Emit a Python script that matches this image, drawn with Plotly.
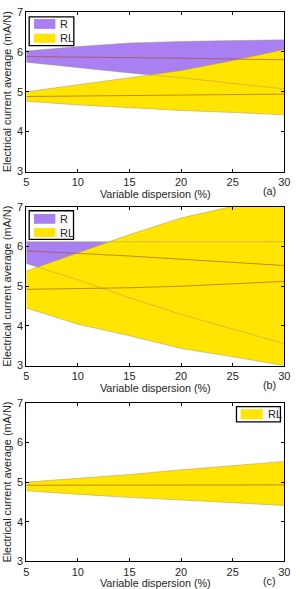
import plotly.graph_objects as go

# ---------------- data ----------------
x_disp = [5, 10, 15, 20, 25, 30]

# panel (a)
a_R_mean = [5.88, 5.87, 5.86, 5.84, 5.82, 5.80]
a_R_upper = [6.02, 6.13, 6.22, 6.26, 6.28, 6.30]
a_R_lower = [5.74, 5.60, 5.47, 5.35, 5.21, 5.07]
a_RL_mean = [4.88, 4.89, 4.90, 4.91, 4.92, 4.94]
a_RL_upper = [5.00, 5.17, 5.35, 5.53, 5.78, 6.06]
a_RL_lower = [4.76, 4.67, 4.60, 4.53, 4.48, 4.42]

# panel (b)
b_R_mean = [5.89, 5.83, 5.76, 5.68, 5.60, 5.52]
b_R_upper = [6.12, 6.12, 6.12, 6.12, 6.12, 6.12]
b_R_lower = [5.57, 5.16, 4.71, 4.29, 3.92, 3.55]
b_RL_mean = [4.92, 4.94, 4.96, 5.00, 5.06, 5.12]
b_RL_upper = [5.38, 5.84, 6.30, 6.72, 7.02, 7.30]
b_RL_lower = [4.45, 4.04, 3.75, 3.43, 3.22, 3.00]

# panel (c)
c_RL_mean = [4.92, 4.92, 4.92, 4.92, 4.93, 4.93]
c_RL_upper = [5.00, 5.09, 5.19, 5.31, 5.41, 5.52]
c_RL_lower = [4.78, 4.69, 4.61, 4.55, 4.48, 4.41]

x_ticks = [5, 10, 15, 20, 25, 30]
y_ticks = [3, 4, 5, 6, 7]
panel_labels = ["(a)", "(b)", "(c)"]
series_names = ["R", "RL"]
x_title = "Variable dispersion (%)"
y_title = "Electrical current average (mA/N)"

# ---------------- style ----------------
PURPLE = "#A97FF2"
YELLOW = "#FFE500"
EDGE = "rgba(165,150,120,0.6)"
MEAN = "rgba(155,75,20,0.6)"
TXT = "#262626"
FONT = "Liberation Sans, Arial, sans-serif"

W, H = 300, 589
px_left, px_right = 24, 290
panels_px = [(6, 169), (205, 367), (405, 567)]

fig = go.Figure()


def band(x, up, lo, color, name, xa, ya):
    fig.add_trace(go.Scatter(
        x=x + x[::-1], y=up + lo[::-1], fill="toself", fillcolor=color,
        mode="lines", line=dict(color=color, width=0), name=name,
        xaxis=xa, yaxis=ya, showlegend=False, hoverinfo="skip"))


def edges(x, up, lo, mean, xa, ya):
    for yy, c in ((up, EDGE), (lo, EDGE), (mean, MEAN)):
        fig.add_trace(go.Scatter(x=x, y=yy, mode="lines",
                                 line=dict(color=c, width=1 if c == MEAN else 0.8),
                                 xaxis=xa, yaxis=ya, showlegend=False, hoverinfo="skip"))


# panel a
band(x_disp, a_R_upper, a_R_lower, PURPLE, "R", "x", "y")
band(x_disp, a_RL_upper, a_RL_lower, YELLOW, "RL", "x", "y")
edges(x_disp, a_R_upper, a_R_lower, a_R_mean, "x", "y")
edges(x_disp, a_RL_upper, a_RL_lower, a_RL_mean, "x", "y")
# panel b
band(x_disp, b_R_upper, b_R_lower, PURPLE, "R", "x2", "y2")
band(x_disp, b_RL_upper, b_RL_lower, YELLOW, "RL", "x2", "y2")
edges(x_disp, b_R_upper, b_R_lower, b_R_mean, "x2", "y2")
edges(x_disp, b_RL_upper, b_RL_lower, b_RL_mean, "x2", "y2")
# panel c
band(x_disp, c_RL_upper, c_RL_lower, YELLOW, "RL", "x3", "y3")
edges(x_disp, c_RL_upper, c_RL_lower, c_RL_mean, "x3", "y3")

xdom = [px_left / W, px_right / W]
shapes, annotations = [], []

axis_common = dict(showline=True, linecolor="black", linewidth=1, mirror="ticks",
                   ticks="inside", ticklen=3, tickcolor="black", showgrid=False,
                   zeroline=False, tickfont=dict(size=11, color=TXT, family=FONT))

layout = dict(width=W, height=H, margin=dict(l=0, r=0, t=0, b=0),
              paper_bgcolor="white", plot_bgcolor="white",
              font=dict(family=FONT, color=TXT, size=11), showlegend=False)

for i, (top, bot) in enumerate(panels_px):
    sfx = "" if i == 0 else str(i + 1)
    ydom = [1 - bot / H, 1 - top / H]
    layout["xaxis" + sfx] = dict(axis_common, domain=xdom, range=[5, 30], tickvals=x_ticks,
                                 anchor="y" + sfx,
                                 title=dict(text=x_title, font=dict(size=10.8, color=TXT), standoff=1))
    layout["yaxis" + sfx] = dict(axis_common, domain=ydom, range=[3, 7], tickvals=y_ticks,
                                 anchor="x" + sfx,
                                 title=dict(text=y_title, font=dict(size=10.9, color=TXT), standoff=3))
    annotations.append(dict(
        text=panel_labels[i], x=275 / W, y=1 - (bot + 20) / H, xref="paper", yref="paper",
        showarrow=False, font=dict(size=10.8, color=TXT), xanchor="center", yanchor="middle"))


def px_rect(x0, y0, x1, y1, **kw):
    shapes.append(dict(type="rect", xref="paper", yref="paper",
                       x0=x0 / W, x1=x1 / W, y0=1 - y1 / H, y1=1 - y0 / H, **kw))


def legend_box(box, items):
    x0, y0, x1, y1 = box
    px_rect(x0, y0, x1, y1, line=dict(width=0), fillcolor="white", layer="above")
    for (sx0, sy0, sx1, sy1, color, name) in items:
        px_rect(sx0, sy0, sx1, sy1, line=dict(width=0), fillcolor=color, layer="above")
        annotations.append(dict(text=name, x=(sx1 + 3) / W, y=1 - ((sy0 + sy1) / 2) / H,
                                xref="paper", yref="paper", showarrow=False,
                                xanchor="left", yanchor="middle",
                                font=dict(size=11, color=TXT, family=FONT)))
    px_rect(x0, y0, x1, y1, line=dict(color="black", width=1.3), fillcolor="rgba(0,0,0,0)",
            layer="above")


legend_box((27, 11, 73, 40.5), [(32, 13.3, 54, 23.3, PURPLE, series_names[0]),
                                 (32, 28.3, 54, 37.6, YELLOW, series_names[1])])
legend_box((27, 209, 72.7, 238.3), [(32, 212.3, 54, 222.3, PURPLE, series_names[0]),
                                     (32, 226.7, 54, 235.8, YELLOW, series_names[1])])
legend_box((240.7, 409, 286, 424.5), [(245, 411.7, 267.7, 421.7, YELLOW, series_names[1])])

layout["shapes"] = shapes
layout["annotations"] = annotations
fig.update_layout(**layout)
fig.write_html("out.html")
